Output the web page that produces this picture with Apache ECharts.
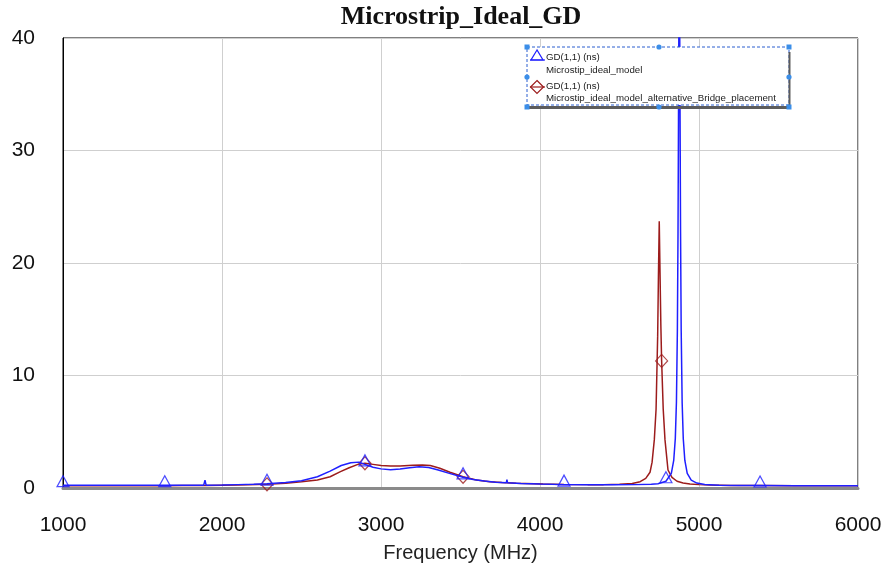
<!DOCTYPE html>
<html>
<head>
<meta charset="utf-8">
<script src="https://cdn.jsdelivr.net/npm/echarts@6/dist/echarts.min.js"></script>
<style>
  html, body { margin: 0; padding: 0; background: #ffffff; }
  #chart { width: 883px; height: 572px; }
</style>
</head>
<body>
<div id="chart"></div>
<script>
// Group delay GD(1,1) in ns versus frequency in MHz, two microstrip models.
const chartTitle = 'Microstrip_Ideal_GD';
const xAxisName = 'Frequency (MHz)';
const xTicks = [1000, 2000, 3000, 4000, 5000, 6000];
const yTicks = [0, 10, 20, 30, 40];

const traceLabel = 'GD(1,1) (ns)';
const blueName = 'Microstip_ideal_model';
const redName = 'Microstip_ideal_model_alternative_Bridge_placement';

// Microstip_ideal_model
const blueFreq = [
  1000, 1200, 1400, 1640, 1800, 1885, 1893, 1900, 2000, 2100, 2200, 2283,
  2400, 2500, 2600, 2680, 2750, 2810, 2860, 2899, 2950, 3000, 3060, 3120,
  3180, 3240, 3300, 3360, 3430, 3516, 3580, 3650, 3720, 3788, 3792, 3796,
  3880, 4000, 4151, 4300, 4450, 4600, 4700, 4742, 4792, 4826, 4841, 4851,
  4858, 4864, 4868, 4871, 4873, 4876, 4879, 4881, 4884, 4888, 4894, 4901,
  4911, 4926, 4951, 4986, 5036, 5126, 5250, 5384, 5600, 5800, 6000
];
const blueGD = [
  0.25, 0.25, 0.25, 0.25, 0.25, 0.25, 0.7, 0.25, 0.27, 0.3, 0.33, 0.38,
  0.48, 0.65, 1.0, 1.5, 2.0, 2.25, 2.3, 2.1, 1.85, 1.7, 1.62, 1.68,
  1.8, 1.88, 1.82, 1.6, 1.3, 0.95, 0.75, 0.62, 0.52, 0.46, 0.75, 0.46,
  0.4, 0.35, 0.3, 0.28, 0.28, 0.3, 0.33, 0.38, 0.6, 1.3, 2.45, 4.4,
  7.6, 14.0, 22.7, 32.6, 39.7, 45.2, 39.7, 32.6, 22.7, 14.0, 7.6, 4.4,
  2.45, 1.3, 0.7, 0.44, 0.31, 0.25, 0.22, 0.22, 0.2, 0.2, 0.2
];
const blueMarkerFreq = [1000, 1640, 2283, 2899, 3516, 4151, 4792, 5384];

// Microstip_ideal_model_alternative_Bridge_placement
const redFreq = [
  1000, 1300, 1640, 1750, 1900, 2100, 2283, 2400, 2500, 2600, 2680, 2745,
  2800, 2855, 2899, 2950, 3000, 3060, 3120, 3200, 3260, 3310, 3370, 3434,
  3516, 3600, 3684, 3760, 3851, 4019, 4151, 4300, 4400, 4500, 4580, 4630,
  4665, 4692, 4705, 4719, 4730, 4740, 4745, 4750, 4755, 4760, 4765, 4775,
  4786, 4805, 4830, 4862, 4900, 4943, 5000, 5069, 5200, 5384, 5600, 6000
];
const redGD = [
  0.2, 0.2, 0.2, 0.22, 0.22, 0.27, 0.33, 0.42, 0.55, 0.72, 1.0, 1.45,
  1.8, 2.1, 2.2, 2.1, 2.0, 1.95, 1.95, 2.02, 2.05, 2.0, 1.75, 1.4,
  1.0, 0.72, 0.56, 0.48, 0.43, 0.35, 0.32, 0.3, 0.3, 0.33, 0.4, 0.56,
  0.85, 1.4, 2.3, 4.3, 7.0, 13.5, 19.0, 23.7, 19.0, 14.5, 11.3, 7.0,
  4.3, 1.6, 0.95, 0.6, 0.45, 0.35, 0.3, 0.27, 0.23, 0.22, 0.2, 0.2
];
const redMarkerFreq = [2283, 2899, 3516, 4765];

const BLUE = '#1f1fff';
const RED = '#9c1c1c';

function pairs(freq, vals) {
  return freq.map((f, i) => [f, vals[i]]);
}
function markerPoints(markFreq, freq, vals) {
  return markFreq.map(f => [f, vals[freq.indexOf(f)]]);
}

// Two-line legend block with selection handles
const lgX = 527, lgY = 47, lgW = 262, lgH = 58;
const handleColor = '#3b8ee8';
const handles = [];
[[lgX, lgY], [lgX + lgW, lgY], [lgX, lgY + lgH + 2], [lgX + lgW, lgY + lgH + 2]].forEach(p => {
  handles.push({ type: 'rect', z: 103, shape: { x: p[0] - 2.5, y: p[1] - 2.5, width: 5, height: 5 },
    style: { fill: handleColor } });
});
[[lgX + 132, lgY], [lgX + 132, lgY + lgH + 2], [lgX, lgY + 30], [lgX + lgW, lgY + 30]].forEach(p => {
  handles.push({ type: 'circle', z: 103, shape: { cx: p[0], cy: p[1], r: 2.6 },
    style: { fill: handleColor } });
});

const legendFont = '9.7px "Liberation Sans", Arial, sans-serif';
const legendGraphics = [
  { type: 'rect', z: 100, shape: { x: lgX, y: lgY, width: lgW, height: lgH },
    style: { fill: '#ffffff', stroke: '#2a5fd0', lineWidth: 1, lineDash: [3, 2] } },
  { type: 'line', z: 101, shape: { x1: lgX + 2, y1: lgY + lgH + 2.5, x2: lgX + lgW + 1, y2: lgY + lgH + 2.5 },
    style: { stroke: '#5c5c5c', lineWidth: 3 } },
  { type: 'line', z: 101, shape: { x1: lgX + lgW + 0.5, y1: lgY + 5, x2: lgX + lgW + 0.5, y2: lgY + lgH + 3 },
    style: { stroke: '#5c5c5c', lineWidth: 2 } },
  // blue trace icon
  { type: 'line', z: 102, shape: { x1: lgX + 3, y1: 60, x2: lgX + 18, y2: 60 },
    style: { stroke: BLUE, lineWidth: 1.2 } },
  { type: 'polygon', z: 102, shape: { points: [[lgX + 10, 50], [lgX + 4, 60], [lgX + 16, 60]] },
    style: { fill: 'none', stroke: BLUE, lineWidth: 1.2 } },
  { type: 'text', z: 102, style: { text: traceLabel, x: lgX + 19, y: 57, font: legendFont, fill: '#222', verticalAlign: 'middle' } },
  { type: 'text', z: 102, style: { text: blueName, x: lgX + 19, y: 70, font: legendFont, fill: '#222', verticalAlign: 'middle' } },
  // red trace icon
  { type: 'line', z: 102, shape: { x1: lgX + 3, y1: 87, x2: lgX + 18, y2: 87 },
    style: { stroke: RED, lineWidth: 1.2 } },
  { type: 'polygon', z: 102, shape: { points: [[lgX + 10, 80.5], [lgX + 16.5, 87], [lgX + 10, 93.5], [lgX + 3.5, 87]] },
    style: { fill: 'none', stroke: RED, lineWidth: 1.2 } },
  { type: 'text', z: 102, style: { text: traceLabel, x: lgX + 19, y: 86, font: legendFont, fill: '#222', verticalAlign: 'middle' } },
  { type: 'text', z: 102, style: { text: redName, x: lgX + 19, y: 98.5, font: legendFont, fill: '#222', verticalAlign: 'middle' } },
  // chart heading, centred over the plot area
  { type: 'text', z: 102, style: { text: chartTitle, x: 461, y: 17, align: 'center', verticalAlign: 'middle',
      font: 'bold 26px "Liberation Serif", "Times New Roman", serif', fill: '#111' } }
].concat(handles);

const chart = echarts.init(document.getElementById('chart'), null, { renderer: 'canvas' });

chart.setOption({
  animation: false,
  backgroundColor: '#ffffff',
  grid: {
    left: 63, right: 25, top: 38, bottom: 84,
    containLabel: false, outerBoundsMode: 'none',
    show: true, borderColor: '#000', borderWidth: 1
  },
  xAxis: {
    type: 'value',
    min: xTicks[0], max: xTicks[xTicks.length - 1], interval: 1000,
    name: xAxisName, nameLocation: 'middle', nameGap: 55,
    nameTextStyle: { fontFamily: '"Liberation Sans", Arial, sans-serif', fontSize: 20, color: '#222' },
    axisLine: { lineStyle: { color: '#8a8a8a', width: 3 } },
    axisTick: { show: false },
    axisLabel: { margin: 27, fontFamily: '"Liberation Sans", Arial, sans-serif', fontSize: 21, color: '#111',
      formatter: v => String(v) },
    splitLine: { show: true, lineStyle: { color: '#cfcfcf', width: 1 } }
  },
  yAxis: {
    type: 'value',
    min: yTicks[0], max: yTicks[yTicks.length - 1], interval: 10,
    axisLine: { show: true, lineStyle: { color: '#000', width: 1 } },
    axisTick: { show: false },
    axisLabel: { margin: 28, fontFamily: '"Liberation Sans", Arial, sans-serif', fontSize: 21, color: '#111',
      formatter: v => String(v) },
    splitLine: { show: true, lineStyle: { color: '#cfcfcf', width: 1 } }
  },
  series: [
    {
      name: redName, type: 'line', data: pairs(redFreq, redGD),
      showSymbol: false, symbol: 'none', clip: true, z: 2,
      lineStyle: { color: RED, width: 1.5 }
    },
    {
      name: redName + ' markers', type: 'scatter', data: markerPoints(redMarkerFreq, redFreq, redGD),
      symbol: 'diamond', symbolSize: [12, 13], z: 3,
      itemStyle: { color: 'rgba(255,255,255,0)', borderColor: RED, borderWidth: 1.2 }
    },
    {
      name: blueName, type: 'line', data: pairs(blueFreq, blueGD),
      showSymbol: false, symbol: 'none', clip: true, z: 4,
      lineStyle: { color: BLUE, width: 1.5 }
    },
    {
      name: blueName + ' markers', type: 'scatter', data: markerPoints(blueMarkerFreq, blueFreq, blueGD),
      symbol: 'triangle', symbolSize: [12, 11], symbolOffset: [0, -4], z: 5,
      itemStyle: { color: 'rgba(255,255,255,0)', borderColor: BLUE, borderWidth: 1.2 }
    }
  ],
  graphic: legendGraphics
});
</script>
</body>
</html>
